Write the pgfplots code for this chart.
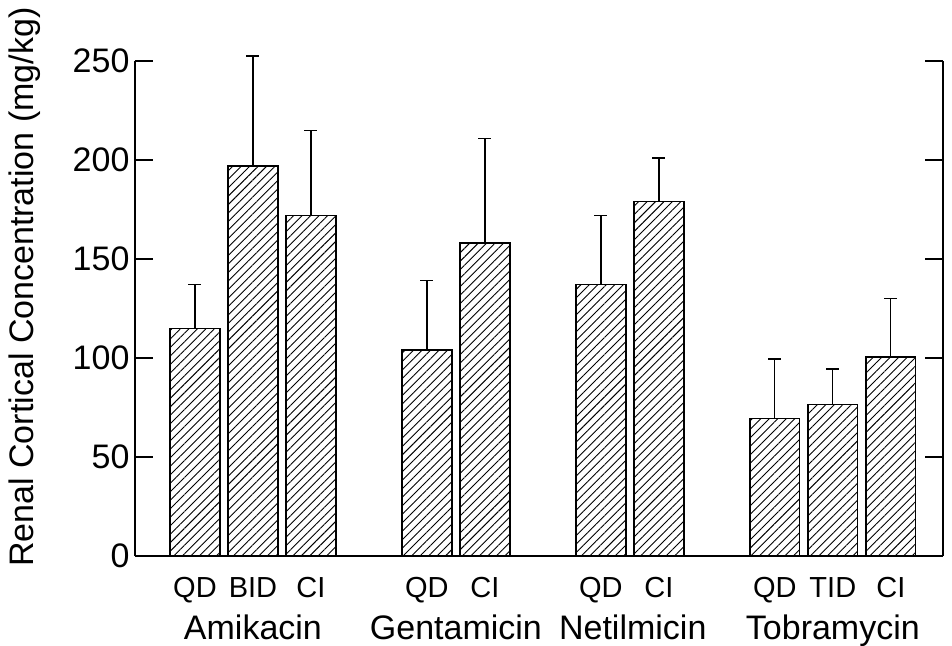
\documentclass[border=0pt]{standalone}
\usepackage{fontspec}
\setmainfont{Liberation Sans}
\usepackage{pgfplots}
\pgfplotsset{compat=1.18}
\usetikzlibrary{patterns.meta}
\begin{document}
\begin{tikzpicture}
\begin{axis}[
  at={(0,0)}, anchor=south west,
  scale only axis, width=808pt, height=495pt,
  xmin=-1.034, xmax=12.9, ymin=0, ymax=250,
  axis x line*=bottom, axis y line*=box,
  axis line style={line width=1.4pt, black},
  tick align=inside, major tick length=18pt,
  ytick={0,50,100,150,200,250},
  ytick pos=both, yticklabel pos=left,
  y tick style={line width=1.4pt, black},
  /pgf/number format/assume math mode=true,
  yticklabel style={font=\fontsize{34}{36}\selectfont, xshift=-2pt},
  xtick={0,1,2,4,5,7,8,10,11,12},
  xticklabels={QD,BID,CI,QD,CI,QD,CI,QD,TID,CI},
  x tick style={draw=none},
  xticklabel style={font=\fontsize{29}{30}\selectfont, anchor=base, yshift=-41pt},
  extra x ticks={1,4.5,7.55,11},
  extra x tick labels={Amikacin,Gentamicin,Netilmicin,Tobramycin},
  extra x tick style={x tick style={draw=none}, xticklabel style={font=\fontsize{34}{36}\selectfont, yshift=-42pt}},
  ylabel={Renal Cortical Concentration (mg/kg)},
  ylabel style={font=\fontsize{34}{36}\selectfont, at={(axis description cs:-0.125,0.543)}, anchor=base},
  clip=false,
]
\addplot[ybar, bar width=0.86, draw=black, line width=1.4pt, fill=white,
  postaction={pattern={Lines[angle=45,distance=6pt,line width=0.9pt]}},
  error bars/.cd, y dir=plus, y explicit,
  error mark=-,
  error mark options={rotate=90, mark size=6.5pt, line width=1.3pt, black},
  error bar style={line width=1.3pt, black}]
coordinates {
  (0,115) +- (0,22)
  (1,197) +- (0,55.5)
  (2,172) +- (0,43)
  (4,104) +- (0,35)
  (5,158) +- (0,53)
  (7,137) +- (0,35)
  (8,179) +- (0,22)
  (10,69.5) +- (0,30)
  (11,76.5) +- (0,18)
  (12,100.5) +- (0,29.5)
};
\end{axis}
\pgfresetboundingbox
\path (-135pt,-89pt) rectangle (817pt,556pt);
\end{tikzpicture}
\end{document}
